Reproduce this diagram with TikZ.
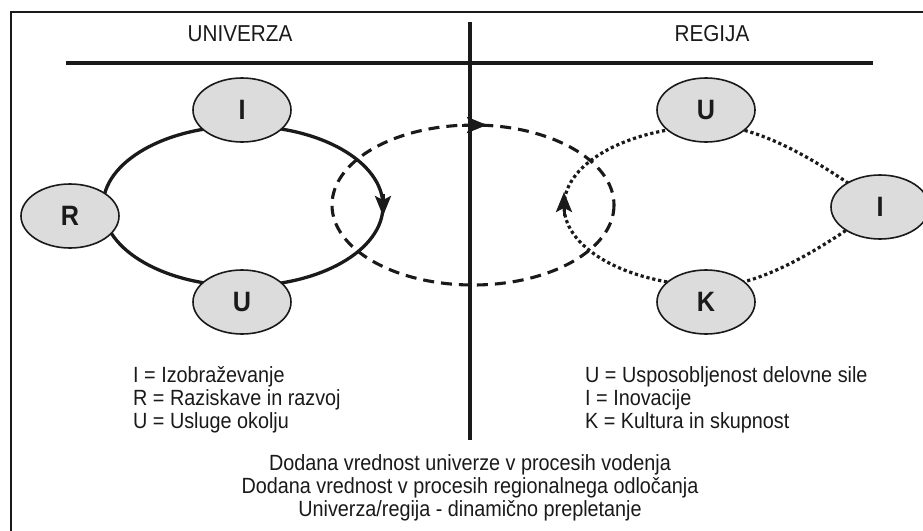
\documentclass[tikz,border=0pt]{standalone}
\usepackage{fontspec}
\setmainfont[FakeStretch=0.9]{Liberation Sans}
\usetikzlibrary{arrows.meta,shapes.geometric}
\definecolor{nodefill}{HTML}{DCDCDC}
\definecolor{ink}{HTML}{1A1A1A}
\tikzset{
  bubble/.style={ellipse, draw=ink, line width=1.6pt, fill=nodefill, minimum width=98pt, minimum height=64pt, inner sep=0pt, font=\bfseries\fontsize{28}{28}\selectfont, text=ink},
  solidloop/.style={draw=ink, line width=3.3pt},
  dashloop/.style={draw=ink, line width=3.1pt, dash pattern=on 11pt off 7pt},
  dotloop/.style={draw=ink, line width=3.2pt, dash pattern=on 3.2pt off 2.8pt},
  tipline/.style={draw=ink, line width=3pt, -{Stealth[length=20pt,width=16pt,inset=4pt]}},
  headtext/.style={font=\fontsize{23}{27}\selectfont, text=ink},
  legend/.style={font=\fontsize{22}{23}\selectfont, align=left, anchor=west, text=ink, inner sep=0pt},
  bottomtext/.style={font=\fontsize{22}{23}\selectfont, align=center, text=ink, inner sep=0pt},
}
\begin{document}
\begin{tikzpicture}[x=1pt,y=-1pt]
\clip (0,0) rectangle (923,530);
\fill[white] (0,0) rectangle (923,530);
% frame (cropped at right and bottom)
\draw[ink, line width=2pt] (11,545) -- (11,12) -- (940,12);
% header
\node[headtext] (tuni) at (240,34) {UNIVERZA};
\node[headtext] (treg) at (712,34) {REGIJA};
\coordinate (hl) at (66,63);
\coordinate (hr) at (873,63);
\coordinate (vt) at (470,22);
\coordinate (vb) at (470,440);
\draw[ink, line width=3.5pt] (hl) -- (hr);
\draw[ink, line width=3.2pt] (vt) -- (vb);
% loops
\path[solidloop] (243,206) ellipse [x radius=140, y radius=80];
\path[dashloop] (473,205) ellipse [x radius=141, y radius=80];
\path[dotloop] (715,126) .. controls (765,126) and (835,172) .. (880,206)
   .. controls (835,240) and (765,286) .. (715,286)
   arc [start angle=90, end angle=270, x radius=151, y radius=80];
% arrow tips
\coordinate (sa1) at (383,194);
\coordinate (sa2) at (383,216);
\coordinate (da1) at (462,125);
\coordinate (da2) at (487,125);
\coordinate (ta1) at (564,216);
\coordinate (ta2) at (564,192);
\draw[tipline] (sa1) -- (sa2);
\draw[tipline] (da1) -- (da2);
\draw[tipline] (ta1) -- (ta2);
% nodes
\node[bubble] (lI) at (242,110) {I};
\node[bubble] (lR) at (70,216) {R};
\node[bubble] (lU) at (242,302) {U};
\node[bubble] (rU) at (706,110) {U};
\node[bubble] (rI) at (880,207) {I};
\node[bubble] (rK) at (706,302) {K};
% legends
\node[legend] (legl) at (133,400) {I = Izobraževanje\\R = Raziskave in razvoj\\U = Usluge okolju};
\node[legend] (legr) at (585,400) {U = Usposobljenost delovne sile\\I = Inovacije\\K = Kultura in skupnost};
\node[bottomtext] (bot) at (470,488) {Dodana vrednost univerze v procesih vodenja\\Dodana vrednost v procesih regionalnega odločanja\\Univerza/regija - dinamično prepletanje};
\end{tikzpicture}
\end{document}
